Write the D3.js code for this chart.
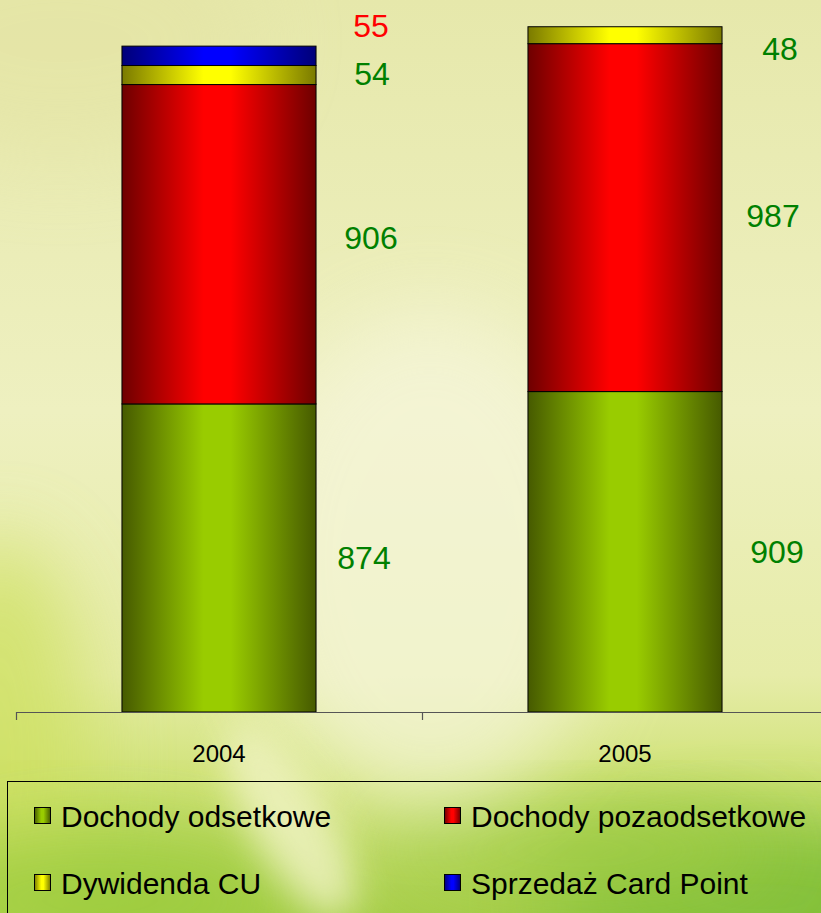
<!DOCTYPE html>
<html><head><meta charset="utf-8">
<script src="https://cdn.jsdelivr.net/npm/d3@7/dist/d3.min.js"></script>
<style>html,body{margin:0;padding:0;overflow:hidden;background:#e8ebb0}</style>
</head><body>
<script>
const years = ["2004", "2005"];
const seriesNames = ["Dochody odsetkowe", "Dochody pozaodsetkowe", "Dywidenda CU", "Sprzedaż Card Point"];
const dochodyOdsetkowe = [874, 909];
const dochodyPozaodsetkowe = [906, 987];
const dywidendaCU = [54, 48];
const sprzedazCardPoint = [55, 0];
const seriesValues = [dochodyOdsetkowe, dochodyPozaodsetkowe, dywidendaCU, sprzedazCardPoint];
const yDomain = [0, 2000];

const W = 821, H = 913;
const svg = d3.select("body").append("svg").attr("width", W).attr("height", H)
  .style("display", "block").style("font-family", "'Liberation Sans', Arial, sans-serif");
const defs = svg.append("defs");

// ---- background ----
const bg = defs.append("linearGradient").attr("id", "bg").attr("x1", 0).attr("y1", 0).attr("x2", 0).attr("y2", 1);
[[0, "#e6e8ab"], [0.45, "#eef0c0"], [0.74, "#e6eca8"], [0.86, "#cfe276"], [1, "#a9cf4c"]]
  .forEach(([o, c]) => bg.append("stop").attr("offset", o).attr("stop-color", c));
const blur = defs.append("filter").attr("id", "blur").attr("x", "-50%").attr("y", "-50%").attr("width", "200%").attr("height", "200%");
blur.append("feGaussianBlur").attr("stdDeviation", 40);
const blur2 = defs.append("filter").attr("id", "blur2").attr("x", "-50%").attr("y", "-50%").attr("width", "200%").attr("height", "200%");
blur2.append("feGaussianBlur").attr("stdDeviation", 18);

svg.append("rect").attr("width", W).attr("height", H).attr("fill", "url(#bg)");
const bgl = svg.append("g");
bgl.append("ellipse").attr("cx", 0).attr("cy", 760).attr("rx", 90).attr("ry", 220).attr("fill", "#cfe163").attr("opacity", 0.8).attr("filter", "url(#blur)");
bgl.append("ellipse").attr("cx", 100).attr("cy", 900).attr("rx", 200).attr("ry", 70).attr("fill", "#9ccc3c").attr("opacity", 0.85).attr("filter", "url(#blur)");
bgl.append("ellipse").attr("cx", 760).attr("cy", 900).attr("rx", 220).attr("ry", 80).attr("fill", "#7fbf38").attr("opacity", 0.9).attr("filter", "url(#blur)");
bgl.append("ellipse").attr("cx", 580).attr("cy", 850).attr("rx", 200).attr("ry", 45).attr("fill", "#a0cc44").attr("opacity", 0.85).attr("filter", "url(#blur)");
bgl.append("ellipse").attr("cx", 430).attr("cy", 560).attr("rx", 180).attr("ry", 250).attr("fill", "#f6f6dc").attr("opacity", 0.7).attr("filter", "url(#blur)");
bgl.append("ellipse").attr("cx", 290).attr("cy", 820).attr("rx", 40).attr("ry", 110).attr("transform", "rotate(-30 290 820)").attr("fill", "#eef2c0").attr("opacity", 0.85).attr("filter", "url(#blur2)");
bgl.append("ellipse").attr("cx", 60).attr("cy", 40).attr("rx", 200).attr("ry", 120).attr("fill", "#e4e4a4").attr("opacity", 0.6).attr("filter", "url(#blur)");

// ---- gradients for bars ----
const palette = [
  { id: "gGreen", dark: "#465a00", bright: "#99cc00" },
  { id: "gRed", dark: "#6e0000", bright: "#ff0000" },
  { id: "gYellow", dark: "#7a7a00", bright: "#ffff00" },
  { id: "gBlue", dark: "#000078", bright: "#0000ff" }
];
palette.forEach(p => {
  const g = defs.append("linearGradient").attr("id", p.id).attr("x1", 0).attr("y1", 0).attr("x2", 1).attr("y2", 0);
  [[0, p.dark], [0.42, p.bright], [0.56, p.bright], [1, p.dark]]
    .forEach(([o, c]) => g.append("stop").attr("offset", o).attr("stop-color", c));
});

// ---- scales ----
const x = d3.scaleBand().domain(years).range([16, 828]).padding(0);
const y = d3.scaleLinear().domain(yDomain).range([712, 7]);
const barW = x.bandwidth() * 0.478;

// stacked data
const stackRows = years.map((yr, i) => {
  const row = { year: yr };
  seriesNames.forEach((s, k) => row[s] = seriesValues[k][i]);
  return row;
});
const stacked = d3.stack().keys(seriesNames)(stackRows);

const gBars = svg.append("g");
stacked.forEach((layer, k) => {
  gBars.selectAll(null).data(layer.filter(d => d[1] - d[0] > 0)).join("rect")
    .attr("x", d => x(d.data.year) + (x.bandwidth() - barW) / 2)
    .attr("y", d => y(d[1]))
    .attr("width", barW)
    .attr("height", d => y(d[0]) - y(d[1]))
    .attr("fill", `url(#${palette[k].id})`)
    .attr("stroke", "#000").attr("stroke-width", 1);
});

// ---- axis ----
const axis = svg.append("g");
axis.append("line").attr("x1", 16).attr("x2", W).attr("y1", 712.5).attr("y2", 712.5).attr("stroke", "#555").attr("stroke-width", 1.2);
years.forEach(yr => {
  axis.append("line").attr("x1", x(yr) + 0.5).attr("x2", x(yr) + 0.5).attr("y1", 712).attr("y2", 720).attr("stroke", "#555").attr("stroke-width", 1.2);
  axis.append("text").attr("x", x(yr) + x.bandwidth() / 2).attr("y", 762)
    .attr("text-anchor", "middle").attr("font-size", 24).attr("fill", "#000").text(yr);
});

// ---- value labels ----
const labelColors = ["#008000", "#008000", "#008000", "#ff0000"];
// manual nudges (px) for label placement, per series per year
const labelNudgeY = [[0, 0], [-7, -2], [-2, 13], [-30, 0]];
const labelNudgeX = [[-7, 0], [0, -4], [1, 3], [0, 0]];
const gLab = svg.append("g");
stacked.forEach((layer, k) => {
  layer.forEach((d, i) => {
    if (d[1] - d[0] <= 0) return;
    const cx = x(d.data.year) + x.bandwidth() / 2 + 152 + labelNudgeX[k][i];
    const cy = (y(d[0]) + y(d[1])) / 2 + labelNudgeY[k][i];
    gLab.append("text").attr("x", cx).attr("y", cy).attr("dy", "0.36em")
      .attr("text-anchor", "middle").attr("font-size", 32).attr("fill", labelColors[k])
      .text(seriesValues[k][i]);
  });
});

// ---- legend ----
const leg = svg.append("g");
leg.append("rect").attr("x", 7.5).attr("y", 781.5).attr("width", W).attr("height", 200)
  .attr("fill", "none").attr("stroke", "#000").attr("stroke-width", 1);
const legPos = [[34, 816], [444, 816], [34, 883], [444, 883]];
seriesNames.forEach((s, k) => {
  const [lx, ly] = legPos[k];
  leg.append("rect").attr("x", lx + 0.5).attr("y", ly - 8.5).attr("width", 16).attr("height", 16)
    .attr("fill", `url(#${palette[k].id})`).attr("stroke", "#000").attr("stroke-width", 1);
  leg.append("text").attr("x", lx + 27).attr("y", ly).attr("dy", "0.36em")
    .attr("font-size", 30).attr("fill", "#000").text(s);
});
</script>
</body></html>
